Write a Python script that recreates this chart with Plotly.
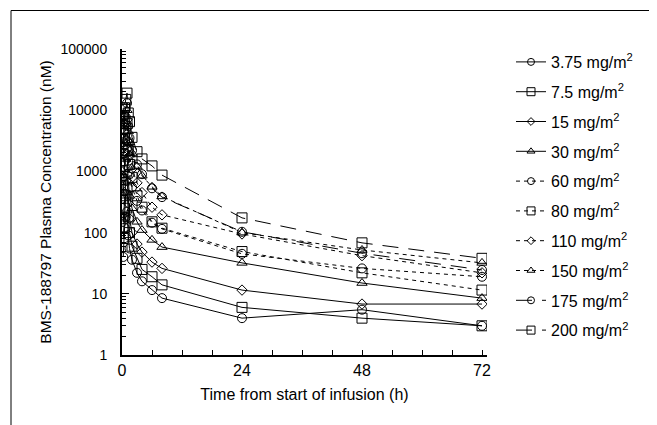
import plotly.graph_objects as go

times = [0.25, 0.5, 0.75, 1.0, 1.25, 1.5, 2, 3, 4, 6, 8, 24, 48, 72]

doses = ["3.75", "7.5", "15", "30", "60", "80", "110", "150", "175", "200"]

conc_3_75 = [40, 120, 180, 220, 90, 55, 36, 22, 16, 11.5, 8.5, 4, 5.5, 3]
conc_7_5 = [80, 250, 400, 500, 180, 100, 60, 38, 25, 19, 14, 6, 4, 3]
conc_15 = [150, 450, 700, 900, 300, 170, 100, 65, 48, 33, 26, 11.5, 6.8, 6.8]
conc_30 = [400, 1100, 1600, 2000, 700, 400, 250, 150, 110, 76, 58, 32, 15, 8.5]
conc_60 = [800, 2000, 2800, 3200, 1500, 900, 550, 330, 230, 145, 115, 45, 26, 19]
conc_80 = [1500, 3500, 5000, 6000, 2200, 1300, 800, 400, 260, 150, 118, 49, 22, 11.5]
conc_110 = [2000, 4500, 6000, 7000, 3000, 1800, 1100, 650, 450, 260, 195, 95, 42, 22]
conc_150 = [2500, 6000, 8500, 10000, 4500, 3000, 2000, 1200, 850, 560, 390, 100, 52, 32]
conc_175 = [3000, 8000, 11000, 13000, 5500, 3500, 2200, 1300, 900, 530, 380, 103, 46, 24.5]
conc_200 = [5000, 11000, 15000, 19000, 9000, 6500, 3600, 2100, 1600, 1230, 870, 174, 68, 38]

series = [conc_3_75, conc_7_5, conc_15, conc_30, conc_60,
          conc_80, conc_110, conc_150, conc_175, conc_200]

symbols = ["circle-open", "square-open", "diamond-open", "triangle-up-open",
           "circle-open", "square-open", "diamond-open", "triangle-up-open",
           "circle-open", "square-open"]
sizes = [9, 10, 8, 9, 9, 10, 8, 9, 9, 10]
legend_sizes = [7, 8, 6, 7, 7, 8, 6, 7, 7, 8]
dashes = ["solid"] * 4 + ["4px,4px"] * 4 + ["16px,10px"] * 2

FONT = "Liberation Sans, Arial, Helvetica, sans-serif"

# page body has an 8px margin; the figure is sized to fit the 657x425 window
W, H = 649, 417
L, T = 114, 41
PW, PH = 365, 306
R, B = W - L - PW, H - T - PH

fig = go.Figure()
for i, (d, y) in enumerate(zip(doses, series)):
    fig.add_trace(go.Scatter(
        x=times, y=y, mode="lines+markers",
        showlegend=False,
        line=dict(color="black", width=1, dash=dashes[i]),
        marker=dict(symbol=symbols[i], size=sizes[i], color="black",
                    line=dict(color="black", width=1)),
    ))
for i, d in enumerate(doses):
    fig.add_trace(go.Scatter(
        x=[None], y=[None], mode="lines+markers",
        name=f"{d} mg/m<sup>2</sup>",
        legendgroup=f"g{i}",
        line=dict(color="black", width=1, dash=dashes[i]),
        marker=dict(symbol=symbols[i], size=legend_sizes[i], color="black",
                    line=dict(color="black", width=1)),
    ))

minor_y = [m * 10 ** e for e in range(0, 5) for m in range(2, 10)]

fx = lambda px: (px - 8 - L) / PW
fy = lambda py: (T + PH - (py - 8)) / PH

fig.update_layout(
    width=W, height=H,
    margin=dict(l=L, r=R, t=T, b=B),
    paper_bgcolor="white", plot_bgcolor="white",
    font=dict(family=FONT, size=13, color="black"),
    showlegend=True,
    legend=dict(x=fx(511), y=fy(45), xanchor="left", yanchor="top",
                font=dict(family=FONT, size=16, color="black"),
                tracegroupgap=6, traceorder="grouped", maxheight=1.0,
                bgcolor="rgba(0,0,0,0)"),
    xaxis=dict(
        range=[0, 73], tickvals=[0, 24, 48, 72], ticks="inside",
        ticklen=5, tickwidth=1, tickcolor="black",
        showline=True, linecolor="black", linewidth=2,
        showgrid=False, zeroline=False,
        tickfont=dict(size=16),
        minor=dict(tickvals=[6, 12, 18, 30, 36, 42, 54, 60, 66],
                   ticks="inside", ticklen=5, tickcolor="black", showgrid=False),
        title=dict(text="Time from start of infusion (h)", font=dict(size=16), standoff=11),
    ),
    yaxis=dict(
        type="log", range=[0, 5],
        tickvals=[1, 10, 100, 1000, 10000, 100000],
        ticktext=["1", "10", "100", "1000", "10000", "100000"],
        ticks="inside", ticklen=7, tickwidth=1, tickcolor="black",
        showline=True, linecolor="black", linewidth=2,
        showgrid=False, zeroline=False,
        tickfont=dict(size=14), ticklabelstandoff=10,
        minor=dict(tickvals=minor_y, ticks="inside", ticklen=4,
                   tickcolor="black", showgrid=False),
        title=dict(text="BMS-188797 Plasma Concentration (nM)", font=dict(size=15.5), standoff=5),
    ),
    shapes=[
        dict(type="line", xref="paper", yref="paper",
             x0=fx(11), x1=fx(657), y0=fy(10.5), y1=fy(10.5),
             line=dict(color="black", width=1)),
        dict(type="line", xref="paper", yref="paper",
             x0=fx(11), x1=fx(11), y0=fy(10.5), y1=fy(425),
             line=dict(color="black", width=1)),
    ],
)

fig.write_html("out.html")
